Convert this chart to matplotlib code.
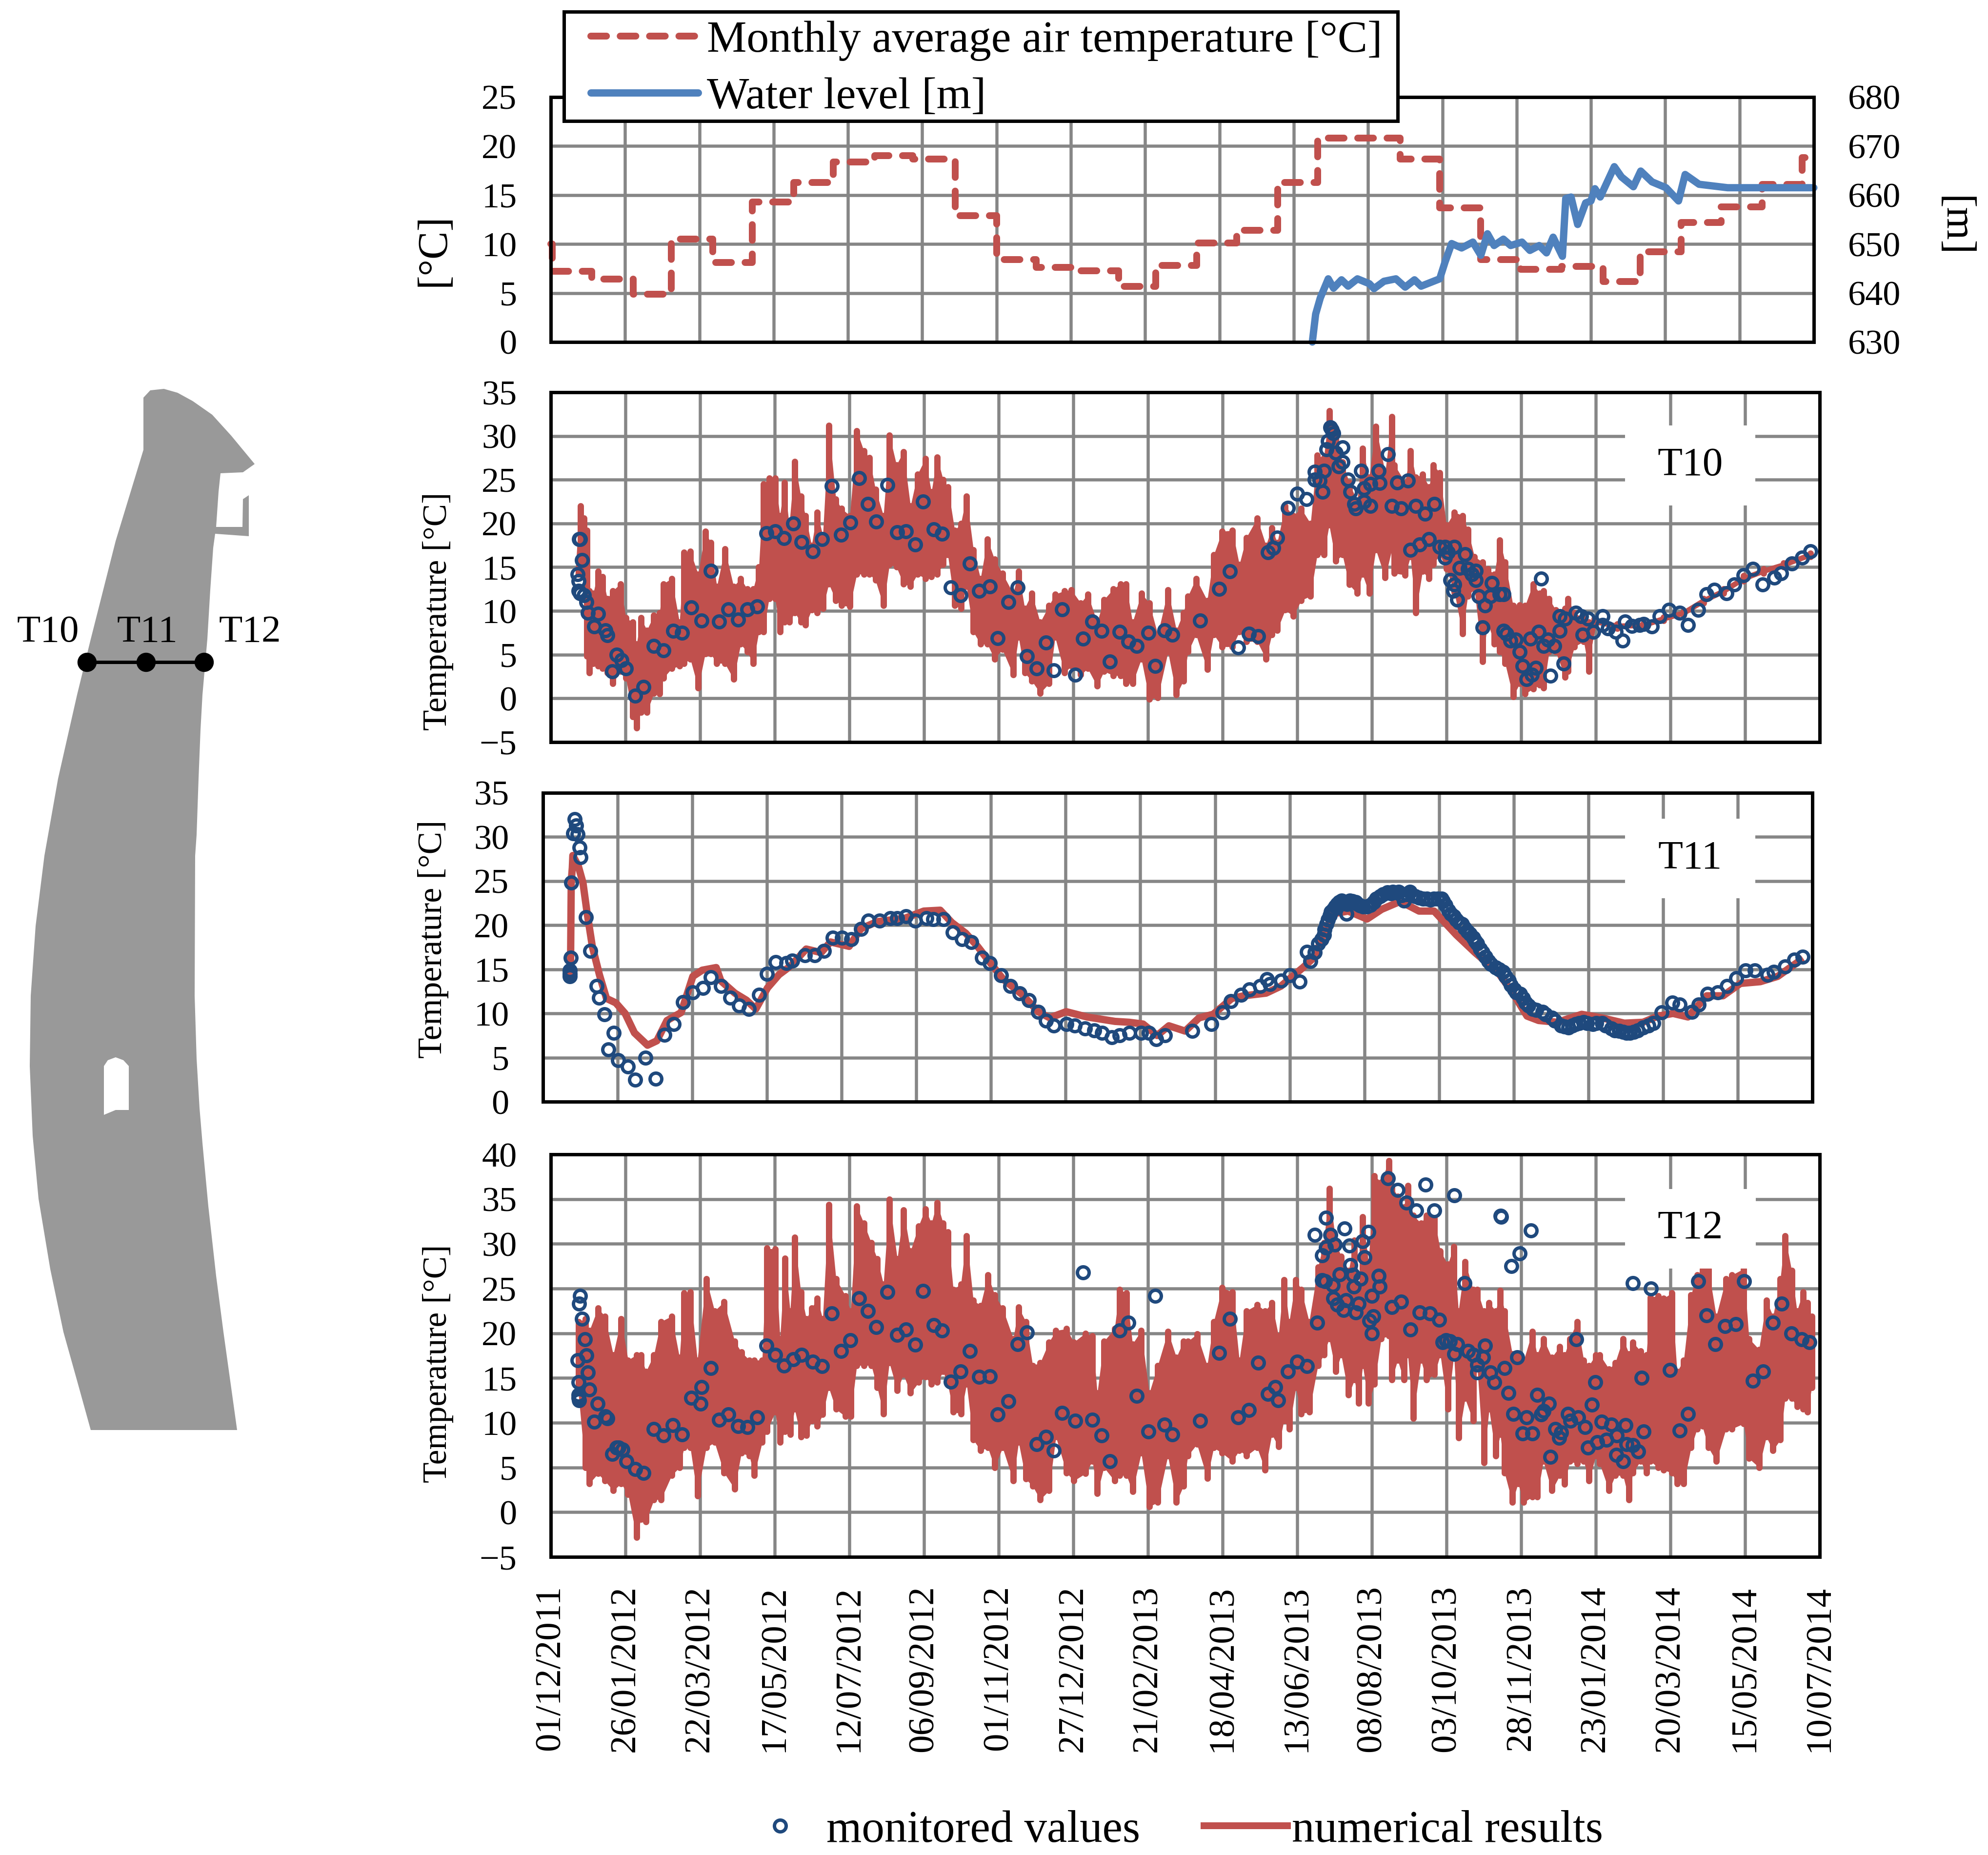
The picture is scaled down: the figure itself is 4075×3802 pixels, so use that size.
import numpy as np
from matplotlib import pyplot as plt
from matplotlib.lines import Line2D
from matplotlib.patches import Polygon, Rectangle

W, H = 4075, 3802
RED = '#C0504D'
BLUE = '#4F81BD'
NAVY = '#1F497D'
GRID = '#868686'
FS = 52

tick_labels = ['01/12/2011', '26/01/2012', '22/03/2012', '17/05/2012', '12/07/2012', '06/09/2012',
               '01/11/2012', '27/12/2012', '21/02/2013', '18/04/2013', '13/06/2013', '08/08/2013',
               '03/10/2013', '28/11/2013', '23/01/2014', '20/03/2014', '15/05/2014', '10/07/2014']

# monthly air temperature, days since 01/12/2011
air_days = [0, 1, 31, 62, 91, 122, 152, 183, 213, 244, 273, 305, 336, 366, 397, 428, 456, 487, 517, 548,
            578, 609, 640, 670, 701, 731, 762, 793, 821, 852, 882, 913, 943, 952]
air_vals = [10, 7.2, 6.4, 4.9, 10.5, 8.1, 14.3, 16.3, 18.4, 19, 18.7, 12.9, 8.4, 7.6, 7.25, 5.7, 7.8, 10.1, 11.4, 16.3,
            20.8, 20.8, 18.7, 13.7, 8.4, 7.4, 7.7, 6.2, 9.2, 12.2, 13.8, 16.1, 18.8, 18.8]

level_days = [574, 576.5, 580, 586, 590, 596, 601, 608, 617, 620.5, 628, 637, 644, 651, 656, 670, 674, 679, 686.5, 695,
              701, 706, 711, 718, 723.5, 732, 738, 745, 750.5, 755.5, 762.5, 765, 769, 774, 780, 784, 787, 791, 801.6,
              807, 816, 821.5, 830, 840.6, 850, 855, 865.5, 887, 952]
level_vals = [630, 635.7, 639, 642.9, 641, 642.7, 641.4, 642.9, 641.9, 640.9, 642.4, 642.9, 641.2, 642.7, 641.4, 642.9,
              646.3, 650.1, 649.2, 650.4, 647.7, 652.1, 649.7, 651, 649.7, 650.4, 648.7, 649.7, 648.2, 651.4, 647.5,
              659.3, 659.6, 654, 658.4, 658.8, 661.3, 659.6, 665.8, 663.7, 661.7, 664.9, 662.7, 661.5, 658.8, 664.2,
              662.2, 661.5, 661.5]

# T10 numerical band, upper and lower reach
t10_days = [20.7, 22.4, 24.9, 27, 29, 31.9, 35.4, 38.9, 42.4, 46.6, 52.2, 56.4, 61.6, 64.4, 67.6, 72.1, 77.4, 81.6, 84.4,
            90.7, 96.6, 100.1, 104.7, 110.6, 115.9, 120, 124.6, 130.6, 137.2, 142.5, 147.4, 151.9, 156.1, 159.6, 163.8,
            168.4, 171.9, 175.4, 178.9, 183.1, 187.6, 191.1, 195.7, 199.9, 204.1, 208.6, 213.9, 218.1, 224.4, 229.6,
            234.9, 239.1, 243.6, 249.6, 254.1, 259.4, 264.6, 269.9, 275.1, 281, 285.6, 289.8, 294.4, 297.9, 303.1,
            307.7, 311.9, 317.1, 322.4, 327.6, 332.9, 338.8, 346.9, 351, 355.6, 360.9, 367.2, 373.8, 378.4, 385.4,
            390.6, 397.6, 402.9, 409.9, 415.1, 422.1, 427.4, 431.6, 436.5, 443.1, 449.1, 455.4, 463.1, 469.4, 474.6,
            478.1, 484.1, 492.5, 497.4, 503.7, 511.4, 516.6, 521.9, 530, 536.6, 541, 545, 551, 557, 563, 570, 575, 580,
            584, 589, 594, 599, 605, 609, 614, 619, 626, 631, 633, 641, 645, 649, 654, 659, 662, 667, 672, 678, 684,
            688, 693, 699, 703, 708, 712, 716, 722, 727, 731, 737, 742, 745, 749, 754, 761, 763, 768, 775, 779,
            783, 800, 820, 835, 850, 865, 880, 895, 910, 925, 945]
t10_hi = [14.8, 22, 20.6, 19.2, 12.3, 12, 14.5, 13.9, 11.4, 12.3, 13.1, 9.2, 8.7, 6.2, 9.2, 7.8, 9.5, 9.8, 13.1,
          13.7, 8.7, 16.7, 16.8, 14.2, 19.1, 17.8, 12.8, 17.1, 12.8, 13.7, 12.5, 12.5, 15, 24.5, 25.2,
          25.2, 20.9, 24.7, 19.8, 27.1, 23.1, 20.9, 17.5, 21.3, 18.6, 31.2, 22.8, 21.7, 20.9, 30.6,
          28.3, 27.5, 23.9, 20.9, 30.1, 26.7, 28.2, 22, 25.6, 27.4, 23.6, 27.6, 25, 24.2, 19.2,
          20, 23.1, 17, 13.7, 18.2, 15.9, 14.3, 12, 14.5, 10.3, 12, 8.7, 10.6, 11.9, 12.3,
          12.4, 10.9, 11.9, 8.7, 11.3, 12.5, 13.1, 13.1, 8.7, 12, 10.9, 7.3, 12.4, 7.8, 9.8,
          11.7, 13.7, 11.2, 16.4, 19.1, 19.2, 15.3, 18.4, 20.6, 17.5, 19.5, 17.8, 22, 20.9, 21.7, 20, 27.8, 27.5,
          32.9, 30.3, 27, 24.7, 22.5, 28.6, 25.3, 31.1, 25.8, 32.2, 26.7, 24.7, 28.3, 25.3, 25.6, 24.2, 26.7, 25.8, 19.8, 21.3, 20.9,
          19.3, 16.2, 15.6, 14.8, 14.2, 18.1, 15.6, 10.6, 10.7, 10.6, 13.1, 12, 12.3, 11.4, 10.1, 10.3, 11.4, 9.8, 9.1, 8.7,
          9.1, 8.5, 8.6, 9.3, 10, 11.4, 12.5, 14, 14.8, 15.5, 16.6]
t10_lo = [14.2, 15.3, 14.2, 4.8, 2.9, 4, 3.7, 3.4, 2.9, 1.7, 3.1, 2.3, -2.1, -3.4, -1.6, -1.6, 0.6, 0.5, 2.3,
          3.4, 3.7, 4, 4.5, 1.2, 5.1, 5.1, 4, 4, 2.2, 6.2, 5.3, 4, 7.6, 7.6, 11.4,
          11.4, 7.6, 8.7, 8.7, 9.8, 8.7, 8.4, 10.1, 9.8, 10.3, 13.1, 11.2, 10.6, 10.5, 14.2,
          14.2, 14.2, 13.5, 10.6, 15.3, 15, 13.1, 12.8, 14.2, 13.7, 13.9, 14.2, 15.3, 16.4, 10.6,
          10.3, 12.8, 7.6, 6.2, 6.2, 4.5, 5.6, 2.7, 7, 2.9, 2, 0.6, 1.7, 7, 2.9,
          3.7, 2.7, 3.4, 1.4, 3.1, 2.6, 2.6, 1.7, 1.7, 4.5, -0.1, 0.1, 5.3, 0.4, 2,
          5.3, 7.3, 3.3, 7.3, 5.9, 5.9, 7.6, 6.5, 6.5, 4.5, 7.3, 7.8, 10.1, 9.4, 11.2, 11.7, 16.4, 16.4,
          19.8, 15.7, 16.4, 13, 12, 14.2, 12, 17, 13.8, 17, 14.3, 14.1, 16.2, 9.8, 14.5, 13.7, 15.3, 16.4, 14.8, 12.1, 7.4,
          11.7, 12.5, 4.2, 8.7, 6.2, 5.3, 4, 0.2, 1.7, 0.5, 1.1, 1.5, 1.2, 5.3, 5.3, 2.4, 3.1, 5.9, 6.5, 3.1,
          8.5, 8, 8.1, 8.9, 9.5, 10.9, 12, 13.4, 14.3, 15, 16.2]

t10_obs_days = [21.4, 21.8, 23.5, 20.3, 20.7, 20.7, 22, 24.9, 26.6, 27.7, 35.4, 32.6, 41, 42.4, 49.4, 53.2, 56.4, 46.2,
                69.7, 63.4, 77.4, 84.4, 91.7, 98.4, 105.4, 113, 120, 126.4, 133.4, 140.4, 147.4, 154.7, 161.7, 168.4,
                175, 182, 188.3, 196.4, 203.4, 210.7, 217.7, 224.7, 231.4, 238, 244.3, 252.4, 260, 266.4, 273.4, 279.3,
                287.4, 293.7, 300.3, 307.3, 314.3, 321.3, 329.4, 335.3, 343.4, 350.4, 357.4, 364.4, 371.4, 377.3, 383.6,
                393.4, 399.4, 406.4, 413.4, 419.3, 426.7, 433.3, 439.6, 448.4, 453.6, 460.6, 466.2, 487.2, 501.6, 509.6,
                515.6, 523.6, 530.6,
                538, 542, 545, 553, 560, 567, 573, 580, 573, 577, 579, 582, 583, 585, 587, 586, 594, 589, 591, 594, 598,
                600, 603, 604, 608, 610, 615, 621, 622, 615, 610, 628, 631, 638, 635, 643, 649, 656, 663, 645, 652, 659,
                667, 671, 673, 671, 678, 686, 682, 688, 694, 691, 694, 675, 678, 677, 680, 696, 701, 706, 705, 712, 715,
                699, 715, 717, 720, 724, 727, 735, 741, 745, 748, 753, 757, 757, 761, 769, 773, 778, 774, 782, 789, 789,
                793, 799, 804, 806, 811, 817, 820, 826, 832, 839, 847, 853, 861, 867, 873, 882, 888, 895, 902, 909, 918,
                923, 931, 939, 945, 729, 732, 736, 739, 750, 760, 743]
t10_obs_vals = [18.2, 18.2, 15.8, 14.2, 13.4, 12.3, 12, 11.8, 11, 9.8, 9.7, 8.2, 7.8, 7.2, 5, 4.4, 3.4, 3.1,
                1.3, 0.3, 6, 5.5, 7.7, 7.5, 10.4, 8.9, 14.6, 8.8, 10.2, 9, 10.2, 10.5, 18.9, 19.1,
                18.3, 20, 17.9, 16.8, 18.2, 24.3, 18.7, 20.1, 25.2, 22.2, 20.2, 24.4, 19, 19.1, 17.6, 22.5,
                19.3, 18.8, 12.7, 11.8, 15.4, 12.3, 12.8, 6.9, 11, 12.7, 4.8, 3.4, 6.4, 3.2, 10.2,
                2.7, 6.8, 8.8, 7.7, 4.2, 7.6, 6.5, 6, 7.5, 3.7, 7.8, 7.3, 8.9, 12.5, 14.5,
                5.8, 7.4, 7.1,
                16.7, 17.2, 18.4, 21.8, 23.4, 22.8, 25.9, 26, 25, 24.9, 23.6, 28.5, 29.4, 31, 30.3, 30.7, 28.7, 28.1, 26.5, 27, 25,
                23.6, 22.2, 21.7, 26, 24, 24.5, 26, 24.6, 22, 22.5, 27.9, 22, 21.7, 24.7, 24.9, 22, 21.1, 22.2, 17, 17.6, 18.2,
                17.3, 17.3, 16.7, 16.1, 17.3, 16.5, 14.9, 14.8, 14.6, 14.2, 13.5, 13.5, 13, 12.3, 11.3, 11.7, 10.6, 13.2, 11.7, 11.9, 11.9,
                8.1, 7.7, 7.4, 6.6, 6.7, 5.3, 6.8, 7.6, 6, 6.7, 6, 7.7, 9.4, 9.1, 9.8, 9.4, 9.1, 7.3, 7.6, 9.4, 8.4,
                8, 7.6, 6.6, 8.8, 8.3, 8.4, 8.5, 8.2, 9.4, 10.1, 9.8, 8.4, 10.1, 11.9, 12.4, 12, 13, 14.1, 14.8, 13, 13.8,
                14.3, 15.4, 16.1, 16.8, 3.7, 2.2, 2.7, 3.5, 2.6, 4, 13.7]

# T11 numerical curve
t11_days = [20.4, 20.7, 21.2, 22, 22.4, 26.5, 30, 32.9, 37, 42.3, 47.6, 54.6, 61.6, 68.6, 78.4, 85.4, 93, 103.6, 112.4,
            119.4, 129.9, 133.4, 143.9, 152.6, 159.6, 168.4, 177, 185.9, 197.4, 208.6, 215.6, 229.6, 238.4, 250.6,
            271.6, 285.6, 297.9, 306.6, 317, 325.9, 334.6, 345, 359, 371.4, 380, 392.4, 408, 429, 439.6, 450, 460.6,
            469.4, 481.6, 492, 502.6, 516.6, 525.5, 542.3, 553.5, 560.5, 570, 578.7, 585.7, 592.7, 603.9, 618, 629,
            643, 657, 668.3, 685, 699, 716, 727, 738, 746.7, 760.7, 779, 794, 811, 825, 836.3, 847.5, 858.7, 872.8,
            885, 898, 913, 926, 942.8]
t11_vals = [14.4, 16, 25, 26.5, 27.9, 26.7, 24.8, 21.6, 17.6, 14.4, 11.7, 11.2, 10, 7.8, 6.4, 6.9, 9.2, 10.1, 14.2,
            14.9, 15.2, 13.7, 12.3, 11.5, 10.5, 12.9, 14.4, 15.4, 17.3, 16.9, 18.1, 17.6, 19.6, 20.4,
            20.8, 21.6, 21.7, 20.3, 19.1, 17.6, 15.9, 13.9, 12.2, 10.2, 9.5, 10.2, 9.6, 9.1, 9, 8.8, 7.5,
            8.6, 8, 9.5, 9.9, 11.7, 12, 12.3, 13.1, 14, 15.2, 16.4, 19.1, 21.3, 21.6, 20.7, 21.8,
            22.7, 21.6, 21.6, 18.9, 16.9, 14.7, 12.4, 9.7, 9.2, 9, 9.9, 9.5, 8.9, 9, 9.7, 10, 9.6, 12,
            12, 13.4, 13.6, 14.2, 16]

t11_obs_days = [20.3, 20.3, 20.3, 20.7, 21.4, 22.8, 23.8, 25.9, 24.9, 27.3, 28, 32.2, 35.4, 40.3, 42, 46.2, 53.2, 49, 56.4,
                63.7, 69.3, 77, 84.4, 91, 98, 105, 112.4, 120, 125.7, 133.4, 140.4, 147, 154.4, 162, 168, 174.7, 182.4,
                187, 196.4, 203.7, 210.7, 217.4, 224.4, 231.4, 238.4, 244, 252.4, 260.4, 265.7, 272.3, 279.3, 287.4,
                292.6, 300.3, 307.3, 314.3, 321.3, 329.4, 335.3, 343.4, 350.4, 357.4, 364.4, 371.4, 377.3, 383, 392.7,
                398.7, 406.4, 413.4, 419.3, 426.7, 432.6, 439.6, 448.4, 454.3, 460, 466.6, 486.9, 501.2, 509.6, 516,
                523.6, 529.7, 538, 542.9, 545, 553.5, 560, 567.5, 573, 575.4, 578.7, 581.5, 585.7, 587.7, 590, 592.7,
                595.5, 598.9, 602.5, 605.3, 609.5, 615, 620.7, 627.7, 633.3, 637.5, 641.7, 645.9, 650.1, 654.3, 660,
                665.5, 673.9, 676.7, 680.9, 685, 689.3, 693.5, 697.7, 700.5, 704.7, 709, 714.5, 720, 724.3, 728.5,
                732.7, 737, 742.5, 749.5, 756.5, 763.5, 769, 774.7, 780.3, 787.3, 794.3, 801.3, 807, 812.5, 818, 825,
                832.7, 839, 847, 852.6, 861.5, 866.6, 873.3, 881, 888, 895, 902, 909, 918.4, 923, 931.6, 938.6, 944.7,
                584, 586, 588.8, 591, 594, 597, 600, 603, 607, 611, 613, 618, 623, 625, 630, 636, 640, 644, 648, 652,
                657, 663, 668, 671, 675, 679, 683, 687, 691, 695, 699, 703, 707, 711, 717, 722, 726, 730, 735, 739,
                745, 752, 759, 766, 772, 777, 783, 790, 797, 804, 810, 815, 821, 829]
t11_obs_vals = [14.5, 14.2, 14.9, 16.3, 24.8, 30.4, 32, 30.3, 31.3, 28.8, 27.7, 20.9, 17.1, 13.1, 11.8, 9.9, 7.8, 5.9, 4.7,
                4, 2.5, 5, 2.6, 7.6, 8.8, 11.3, 12.4, 12.9, 14.1, 13.1, 11.8, 10.9, 10.5, 12.1, 14.5, 15.8, 15.7,
                16, 16.6, 16.6, 17.1, 18.6, 18.6, 18.4, 19.6, 20.5, 20.5, 20.8, 20.8, 21, 20.5, 20.8,
                20.7, 20.7, 19.2, 18.4, 18.1, 16.3, 15.7, 14.3, 13.1, 12.3, 11.5, 10.2, 9.2, 8.6, 8.8,
                8.6, 8.3, 8.1, 7.8, 7.3, 7.5, 7.8, 7.8, 7.8, 7.1, 7.5, 8, 8.8, 10.1, 11.4,
                12.1, 12.7, 13.1, 13.9, 13.3, 13.7, 14.3, 13.6, 17, 15.9, 16.9, 17.9, 18.9, 20.1, 21.1, 21.8,
                22.4, 22.8, 21.3, 22.8, 22.6, 22.1, 22.3, 23.3, 23.7, 23.8, 23.8, 22.8, 23.8, 23.3, 23,
                22.9, 23, 22.3, 21.3, 20.6, 20.1, 19.3, 18.6, 17.9, 16.9, 15.9, 15.2, 14.7, 13.7, 12.7,
                12.2, 11.2, 10.5, 10.2, 9.5, 8.6, 8.4, 8.8, 9, 8.8, 8.9, 8.3, 8, 7.8, 7.9, 8.4,
                8.9, 10.1, 11.2, 11, 10.2, 11, 12.2, 12.4, 13.1, 14, 14.9, 14.9, 14.4, 14.7, 15.3, 16.1, 16.4,
                18.4, 19.5, 20.6, 21.5, 22.1, 22.6, 22.6, 22.4, 22.7, 22.4, 22.2, 22.1, 22.6, 23, 23.5, 23.6, 23.7, 23.4, 23.5, 23.4,
                23.1, 23, 23, 23, 22.7, 21.7, 21, 20.3, 19.7, 19, 18.2, 17.3, 16.4, 15.6, 15, 14.2, 13.2, 12.4, 11.7, 10.9,
                10.4, 9.9, 9.2, 8.5, 8.6, 8.9, 8.9, 8.9, 8.6, 8.1, 7.9, 7.8, 8.1, 8.6]

# T12 numerical band
t12_days = [20.7, 25.9, 29, 35.4, 40.6, 46.9, 52.8, 58, 64.4, 67.6, 71.4, 77.4, 82.6, 90.7, 96.6, 100, 104.7, 110, 116.6,
            122.9, 130, 138, 143, 149, 152.6, 158.6, 162, 168.4, 172, 175.7, 179.6, 183, 187.6, 191.8, 195.7, 200, 204,
            208.6, 214, 221, 225, 229.6, 234.9, 240.5, 245, 249.6, 254, 260, 264.6, 269.9, 276, 281, 285.6, 289.8, 294.4,
            297.9, 302, 307.7, 312, 317, 322.4, 328, 333, 339, 347, 351, 356.4, 361.6, 367.2, 373.8, 379, 387, 392.4, 401,
            406.4, 410, 415, 423, 426.7, 432, 436.5, 443, 449, 455.4, 463, 469.4, 474.6, 478, 484.8, 492.5, 497.4, 503.7,
            511.4, 516.6, 521.9, 530, 536, 541, 546, 550, 554, 559, 563, 569, 575.6, 580, 584, 589, 593, 598.6, 603, 606,
            609.2, 613.5, 618, 623, 628.7, 631, 635.4, 640, 643, 647, 652.9, 657, 663, 667.4, 673, 677.6, 681, 686, 692,
            695, 700, 704, 709, 712.4, 715.6, 721.4, 725.7, 730, 736.5, 740, 744.7, 751, 757, 760.7, 764.5, 770, 775, 779,
            784, 787, 794, 798.6, 804.5, 809, 811.8, 817.6, 822, 825, 830.7, 835, 841, 845, 850, 855.5, 860, 864, 868.6,
            874.4, 881.7, 886, 895, 899, 906.5, 912, 917, 922.5, 926, 931, 935, 939.5, 943, 946]
t12_hi = [21.3, 21.6, 20.3, 22.8, 21.9, 17.6, 21.6, 17, 17.6, 17.6, 15.7, 17.6, 21.3, 21.9, 17.3, 24.5, 24.6, 17, 26.1,
          22.5, 23.5, 19.1, 17.9, 17, 17, 17, 29.5, 29.4, 19.4, 28.4, 22.5, 30.7, 24.6, 21.6, 22.8, 23.9, 21.6,
          34.4, 26.1, 24.2, 22.5, 34.2, 32.3, 30.1, 28.3, 25.5, 35, 28.3, 33.8, 29.2, 32, 33.9, 32.3, 34.6, 32.3,
          31.3, 24.9, 25.5, 30.9, 23.7, 23.1, 26.5, 24.3, 22.8, 19.4, 22.9, 21.3, 16.4, 16.7, 19, 20.3, 20.5, 19, 20,
          19.7, 13.3, 19.1, 20.5, 24.9, 24.5, 18.8, 20.3, 13.3, 16.4, 20.2, 17.3, 19.1, 19.1, 19.9, 16.4, 21.3, 25.1,
          24.6, 17, 22.5, 23.2, 22.5, 23.4, 19.7, 26, 21.3, 26, 24.9, 21.3, 27.4, 30.1, 36.2, 30.1, 28.6, 27, 30.4, 24.6,
          33, 28, 37.6, 36.9, 39.3, 36.5, 35.3, 34.1, 36.5, 33.2, 32.3, 33.2, 32.9, 29.2, 27.7, 29.7, 22.5, 28, 24.9,
          24.9, 22.5, 23.4, 22.5, 24.8, 22.5, 17.7, 17.6, 17, 20.2, 17.6, 19.4, 17.3, 18.5, 17.6, 19.4, 21.3, 17, 16.4,
          17.6, 17.6, 16, 16.7, 19.4, 17.7, 19, 18, 17.6, 24, 24.2, 23.9, 24.5, 15.7, 17, 24.3, 26.5, 27.2, 27.2,
          21.9, 26.1, 26.5, 27.2, 19.4, 18.2, 23.7, 21.9, 26.1, 30.9, 27, 22.5, 24.6, 23.4, 21.9]
t12_lo = [13.3, 5, 3.2, 4.3, 3.5, 2.4, 3.2, 2, -2.8, -0.8, -1.1, 1.4, 1.4, 4.1, 5, 7.2, 7.2, 1.8, 7.2,
          7.8, 4.4, 2.6, 6.6, 6.3, 4.1, 7.8, 9, 11.2, 7.8, 9, 8.7, 11.5, 8.4, 8.6, 10.2, 9.6, 10.9,
          13.9, 11.5, 10.7, 10.7, 16.4, 16.4, 16.4, 13.9, 11, 16.7, 13.6, 15.4, 13.3, 14.5, 15.1, 14.3, 14.5, 15.7,
          14.3, 11.2, 11, 14.3, 8.1, 6.9, 7.2, 5, 7.2, 3.5, 7.8, 3.7, 2.9, 1.4, 2.4, 8.4, 4.4, 3.5, 4.3,
          5.7, 2.1, 5, 3.5, 4.1, 4.1, 2.3, 6.6, 0.6, 1.1, 6.3, 1.1, 2.9, 6.3, 7.6, 3.8, 7.2, 6.6,
          5.7, 6.9, 6.3, 7.2, 4.7, 8.7, 7.3, 10.2, 9.3, 13.9, 11, 11.2, 16.4, 17.6, 19.4, 15.7, 17.6, 13.1, 14.8, 12.2,
          16.4, 12.2, 14.3, 19.4, 19.7, 14.8, 17, 14.8, 17.6, 10.5, 17, 14.8, 15.4, 17.6, 11.5, 17.6, 8.3, 12.7, 10.2,
          16.4, 5.5, 11.5, 6.3, 8.7, 4.4, 1.1, 3.2, 1.1, 1.7, 1.7, 5.7, 2.4, 4.1, 3.1, 5.7, 5.4, 5.7, 3.5,
          6.3, 5.4, 2.4, 4.1, 4.1, 1.4, 4.4, 5.7, 4.4, 5.7, 5, 4.7, 4.4, 3.2, 3.2, 7.2, 9.3, 9.6, 7.2,
          5.7, 9.3, 9.3, 9.9, 6, 5, 8.4, 6.9, 8.1, 12.7, 12.7, 11.8, 11.5, 11.2, 13.9]

t12_obs_days = [22, 21.4, 23.5, 25.6, 26.6, 20.3, 27.7, 20.7, 29, 20.7, 21.4, 20.7, 35, 32.6, 41, 42.4, 49.4, 46.2, 53.9, 51,
                56.7, 63.4, 69.7, 77.4, 84.4, 91.4, 98.4, 105.4, 113, 112.4, 120, 126.4, 133.4, 140.4, 147.4, 154.7,
                161.7, 168.4, 175, 182, 188.3, 196.4, 203.4, 210.7, 217.7, 224.7, 231.4, 238, 244.3, 252.4, 260, 266.4,
                273.4, 279.3, 287.4, 293.7, 300.3, 307.3, 314.3, 321.3, 329.4, 335.3, 343.4, 350.4, 357.4, 364.4, 371.4,
                377.3, 383.6, 393.4, 399.4, 406.4, 413.4, 419.3, 426.7, 433.3, 439.6, 448.4, 453.6, 460.6, 466.2, 487.2,
                501.6, 509.6, 515.6, 523.6, 530.6, 538,
                543.5, 545.6, 553, 560, 567.4, 575, 573, 581.5, 595.4, 585, 578.5, 581.5, 588, 599, 609, 613.5, 610.6,
                578.5, 581, 586.7, 592, 600, 601.6, 602.5, 607.7, 621, 622, 616, 587, 589.9, 596.6, 594.6, 606, 604, 617,
                614, 616, 631, 638, 645, 652, 659.6, 666.6, 628, 635.4, 642, 649.4, 656.4, 663, 678, 685.5, 671.8, 674.7,
                669, 680, 677.7, 688, 692, 701, 699.5, 695, 695, 705, 708, 715.5, 725, 712.6, 713, 735.4, 727, 720.5,
                718.5, 722, 732, 729, 736.5, 740, 749, 745, 743, 750, 753.5, 763, 771, 765, 758, 756.4, 776, 769.5, 778,
                783.5, 781, 788.5, 795.7, 785, 792, 799.7, 806.5, 799.5, 804.5, 807, 811.8, 816, 811.8, 825.5, 820,
                818.5, 839.5, 847, 853, 861, 867, 873.6, 881, 889, 895.4, 902, 909.4, 917, 923.4, 930.7, 938.6, 944.4]
t12_obs_vals = [24.2, 23.3, 21.6, 19.3, 17.5, 17, 15.6, 14.5, 13.7, 13.1, 12.5, 12.8, 12.1, 10.1, 10.7, 10.5, 7.2, 6.5, 7, 7.2,
                5.7, 4.8, 4.4, 9.3, 8.6, 9.7, 8.7, 12.8, 14, 12.1, 16.1, 10.3, 10.9, 9.6, 9.5, 10.6,
                18.6, 17.6, 16.4, 17.1, 17.6, 16.8, 16.3, 22.2, 18, 19.2, 23.9, 22.5, 20.7, 24.6, 19.8, 20.4,
                18.7, 24.7, 20.9, 20.3, 14.6, 15.7, 18, 15.1, 15.2, 10.9, 12.4, 18.8, 20.1, 7.6, 8.4,
                6.9, 11.1, 10.2, 26.8, 10.3, 8.6, 5.7, 20.3, 21.2, 13, 9, 24.2, 9.8, 8.7, 10.2,
                17.8, 21.6, 10.6, 11.4, 16.7, 13.2,
                14, 12.5, 15.7, 16.8, 16.3, 21.2, 31, 32.9, 31.7, 31, 28.7, 29.6, 29.9, 29.8, 30.3, 31.3, 28.5,
                25.9, 25.8, 25.4, 26.6, 27.6, 26.5, 25.2, 26.1, 26.4, 25.2, 24.2, 23.9, 23.2, 23.7, 22.6, 23.3, 22.3, 21.9,
                21.4, 20, 22.9, 23.5, 20.4, 22.3, 22.2, 21.5, 37.3, 36, 34.6, 33.7, 36.6, 33.7, 35.4, 25.6, 19.2, 19.1,
                19, 18.8, 17.7, 18, 17.6, 18.6, 17.3, 16.5, 15.6, 15.6, 14.5, 16.1, 17.3, 33.1, 33, 31.5, 28.9, 27.5,
                13.3, 11, 10.6, 8.8, 8.8, 13.1, 12.1, 11.3, 10.9, 6.2, 9.3, 11, 10.6, 10.2, 8.9, 8.3, 9.5, 19.3, 7.2,
                14.5, 12, 10.1, 9.8, 7.8, 8.1, 8.6, 9.7, 6.4, 5.7, 7.6, 7.5, 6.8, 25.6, 25, 9,
                15, 15.9, 9.1, 11, 25.8, 22, 18.8, 20.8, 21, 25.8, 14.7, 15.7, 21.2, 23.3, 20, 19.3, 19]

# dam section outline, reference pixels
dam_x = [294, 308, 336, 364, 395, 435, 474, 522, 498, 452, 448, 443, 497, 498, 510, 510, 441, 437, 431, 425, 415, 411,
         407, 403, 400, 399, 403, 409, 415, 427, 443, 458, 486, 186, 158, 130, 103, 79, 67, 61, 63, 73, 91, 119, 158,
         186, 237, 294]
dam_y = [815, 800, 797, 805, 822, 850, 893, 951, 968, 970, 1008, 1080, 1080, 1023, 1015, 1099, 1094, 1123, 1209, 1310,
         1424, 1496, 1596, 1711, 1754, 2041, 2170, 2271, 2343, 2472, 2615, 2730, 2931, 2931, 2830, 2730, 2601, 2457,
         2328, 2185, 2041, 1898, 1754, 1596, 1424, 1310, 1109, 922]
hole_x = [213, 221, 237, 253, 264, 264, 237, 213]
hole_y = [2185, 2173, 2167, 2173, 2185, 2275, 2275, 2285]

plt.rcParams['font.family'] = ['Liberation Serif', 'DejaVu Serif']
plt.rcParams['font.size'] = FS
px = 72.0 / 100


def add_ax(fig, left, top, right, bottom):
    ''' axes from reference pixel edges '''
    ax = fig.add_axes([left / W, 1 - bottom / H, (right - left) / W, (bottom - top) / H])
    ax.set_xlim(0, 952)
    ax.set_xticks(np.arange(0, 953, 56))
    ax.set_xticklabels([])
    ax.grid(True, color=GRID, lw=6.5 * px)
    ax.set_axisbelow(True)
    ax.tick_params(length=0, pad=50, labelsize=FS)
    for s in ax.spines.values():
        s.set_linewidth(7 * px)
    return ax


def band(ax, days, hi, lo):
    ''' numerical results: solid mass between high and low, spikes on top '''
    ax.fill_between(days, lo, hi, color=RED, lw=0, zorder=2)
    ax.plot(days, (np.array(hi) + np.array(lo)) / 2, color=RED, lw=11 * px, zorder=2)
    ax.vlines(days, lo, hi, color=RED, lw=13 * px, capstyle='round', zorder=2)


def monitored(ax, days, vals):
    ax.plot(days, vals, ls='none', marker='o', ms=24 * px, mfc='none', mec=NAVY, mew=7 * px, zorder=3, clip_on=False)


def tag(fig, ax, name, x0, y0, x1, y1):
    ''' white box with the sensor name, hides the grid behind it '''
    ax.add_patch(Rectangle((x0 / W, 1 - y1 / H), (x1 - x0) / W, (y1 - y0) / H, transform=fig.transFigure,
                           fc='white', ec='none', zorder=4))
    fig.text((x0 + x1) / 2 / W, 1 - (y0 + y1) / 2 / H, name, ha='center', va='center', fontsize=60, zorder=6)


def show_chart():
    fig = plt.figure(figsize=(W / 100, H / 100), dpi=100, facecolor='white')

    # dam section
    sec = fig.add_axes([0, 0, 1, 1], zorder=-1)
    sec.set_xlim(0, W)
    sec.set_ylim(H, 0)
    sec.axis('off')
    sec.add_patch(Polygon(np.column_stack([dam_x, dam_y]), fc='#999999', ec='none'))
    sec.add_patch(Polygon(np.column_stack([hole_x, hole_y]), fc='white', ec='none'))
    sec.plot([178, 299, 418], [1357, 1357, 1357], color='black', lw=7 * px, marker='o', ms=38 * px)
    for name, x in zip(['T10', 'T11', 'T12'], [98, 302, 512]):
        sec.text(x, 1296, name, ha='center', va='center', fontsize=57)

    # air temperature and water level
    ax1 = add_ax(fig, 1129, 199, 3718, 701)
    ax1.set_ylim(0, 25)
    ax1.set_yticks(range(0, 26, 5))
    l1, = ax1.plot(air_days, air_vals, drawstyle='steps-post', color=RED, lw=14 * px, zorder=3, clip_on=False,
                   dashes=(2.3, 2.0), dash_capstyle='round', label='Monthly average air temperature [°C]')
    ax1r = ax1.twinx()
    ax1r.set_ylim(630, 680)
    ax1r.set_yticks(range(630, 681, 10))
    ax1r.tick_params(length=0, pad=50, labelsize=FS)
    for s in ax1r.spines.values():
        s.set_linewidth(7 * px)
    l2, = ax1r.plot(level_days, level_vals, color=BLUE, lw=15 * px, clip_on=False, label='Water level [m]',
                    solid_capstyle='round')
    ax1r.add_patch(Rectangle((1156 / W, 1 - 248 / H), 1709 / W, 224 / H, transform=fig.transFigure, fc='white',
                             ec='black', lw=7 * px, clip_on=False, zorder=9))
    leg = ax1r.legend(handles=[l1, l2], loc='upper left', bbox_to_anchor=(1211 / W, 1 - 42 / H),
                      bbox_transform=fig.transFigure, fontsize=66, frameon=False, borderaxespad=0, borderpad=0,
                      labelspacing=0.36, handlelength=2.4, handletextpad=0.2)
    leg.set_zorder(10)
    fig.text(890 / W, 1 - 512 / H, '[°C]', rotation=90, ha='center', va='center', fontsize=62)
    fig.text(4005 / W, 1 - 464 / H, '[m]', rotation=270, ha='center', va='center', fontsize=62)

    # T10
    ax2 = add_ax(fig, 1129, 804, 3730, 1521)
    ax2.set_ylim(-5, 35)
    ax2.set_yticks(range(-5, 36, 5))
    band(ax2, t10_days, t10_hi, t10_lo)
    monitored(ax2, t10_obs_days, t10_obs_vals)
    tag(fig, ax2, 'T10', 3331, 872, 3598, 1036)
    fig.text(898 / W, 1 - 1253 / H, 'Temperature [°C]', rotation=90, ha='center', va='center', fontsize=50)

    # T11
    ax3 = add_ax(fig, 1113, 1625, 3715, 2258)
    ax3.set_ylim(0, 35)
    ax3.set_yticks(range(0, 36, 5))
    ax3.plot(t11_days, t11_vals, color=RED, lw=15 * px, solid_joinstyle='round', zorder=2)
    monitored(ax3, t11_obs_days, t11_obs_vals)
    tag(fig, ax3, 'T11', 3331, 1678, 3598, 1841)
    fig.text(888 / W, 1 - 1925 / H, 'Temperature [°C]', rotation=90, ha='center', va='center', fontsize=50)

    # T12
    ax4 = add_ax(fig, 1129, 2366, 3730, 3191)
    ax4.set_ylim(-5, 40)
    ax4.set_yticks(range(-5, 41, 5))
    band(ax4, t12_days, t12_hi, t12_lo)
    monitored(ax4, t12_obs_days, t12_obs_vals)
    tag(fig, ax4, 'T12', 3331, 2437, 3599, 2600)
    ax4.set_xticklabels(tick_labels, rotation=90, fontsize=FS + 2)
    ax4.tick_params(axis='x', pad=42)
    fig.text(898 / W, 1 - 2795 / H, 'Temperature [°C]', rotation=90, ha='center', va='center', fontsize=50)

    h1 = Line2D([], [], ls='none', marker='o', ms=24 * px, mfc='none', mec=NAVY, mew=7 * px)
    h2 = Line2D([], [], color=RED, lw=14 * px)
    fig.legend([h1, h2], ['monitored values', 'numerical results'], ncol=2, loc='center',
               bbox_to_anchor=(2400 / W, 1 - 3752 / H), frameon=False, fontsize=67, handlelength=1.84,
               handletextpad=0.1, columnspacing=1.4, borderpad=0)

    fig.savefig('out.png', dpi=100)


if __name__ == '__main__':
    show_chart()
